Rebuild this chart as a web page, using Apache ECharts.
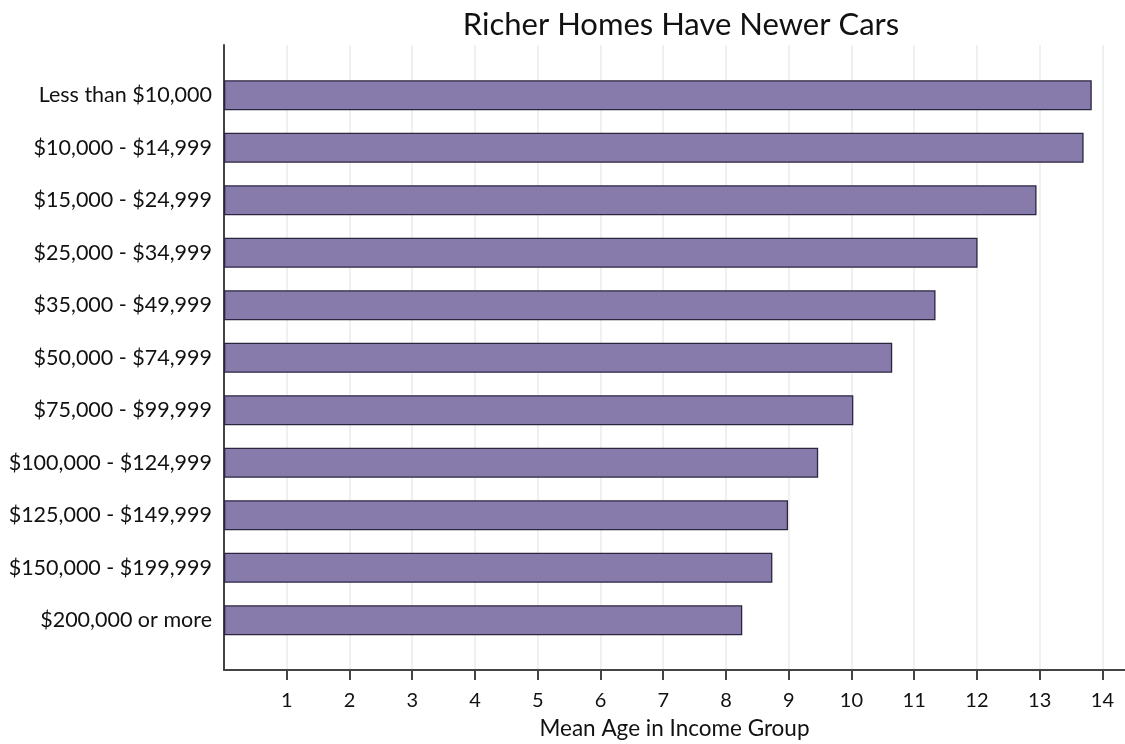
<!DOCTYPE html>
<html>
<head>
<meta charset="utf-8">
<script src="https://cdn.jsdelivr.net/npm/echarts@6/dist/echarts.min.js"></script>
<style>
  html, body { margin: 0; padding: 0; background: #fff; }
  #chart { width: 1125px; height: 744px; }
</style>
</head>
<body>
<div id="chart"></div>
<script>
// 收入分组
const incomeGroups = [
  'Less than $10,000',
  '$10,000 - $14,999',
  '$15,000 - $24,999',
  '$25,000 - $34,999',
  '$35,000 - $49,999',
  '$50,000 - $74,999',
  '$75,000 - $99,999',
  '$100,000 - $124,999',
  '$125,000 - $149,999',
  '$150,000 - $199,999',
  '$200,000 or more'
];
// 平均车龄
const meanAge = [13.83, 13.70, 12.95, 12.01, 11.34, 10.65, 10.03, 9.47, 8.99, 8.74, 8.26];
const xTicks = [1, 2, 3, 4, 5, 6, 7, 8, 9, 10, 11, 12, 13, 14];

const font = 'Lato, "Noto Sans", sans-serif';
const xMax = 14.36;

const myChart = echarts.init(document.getElementById('chart'));

const option = {
  backgroundColor: '#fff',
  animation: false,
  title: {
    text: 'Richer Homes Have Newer Cars',
    left: 676,
    top: 4,
    textAlign: 'center',
    textStyle: { color: '#111', fontSize: 31, fontWeight: 'normal', fontFamily: font }
  },
  grid: [
    // 外框：坐标轴线和网格线
    { left: 224, right: 0, top: 45, bottom: 74, outerBoundsMode: 'none', containLabel: false },
    // 柱子
    { left: 224, right: 0, top: 69, bottom: 97.5, outerBoundsMode: 'none', containLabel: false }
  ],
  xAxis: [
    {
      gridIndex: 0,
      type: 'value',
      min: 0,
      max: xMax,
      name: 'Mean Age in Income Group',
      nameLocation: 'middle',
      nameGap: 47,
      nameTextStyle: { color: '#111', fontSize: 22.5, fontFamily: font },
      axisLine: { show: true, lineStyle: { color: '#444', width: 2 } },
      axisTick: { show: true, customValues: xTicks, length: 10, lineStyle: { color: '#444', width: 2 } },
      axisLabel: { customValues: xTicks, margin: 21, color: '#111', fontSize: 20, fontFamily: font },
      splitLine: { show: true, lineStyle: { color: '#ebebeb', width: 1.5 } }
    },
    {
      gridIndex: 1,
      type: 'value',
      min: 0,
      max: xMax,
      show: false
    }
  ],
  yAxis: [
    {
      gridIndex: 0,
      type: 'value',
      axisLine: { show: true, lineStyle: { color: '#444', width: 2 } },
      axisTick: { show: false },
      axisLabel: { show: false },
      splitLine: { show: false }
    },
    {
      gridIndex: 1,
      type: 'category',
      inverse: true,
      data: incomeGroups,
      axisLine: { show: false },
      axisTick: { show: false },
      axisLabel: { margin: 12, color: '#111', fontSize: 21.5, fontFamily: font }
    }
  ],
  series: [
    {
      type: 'bar',
      xAxisIndex: 1,
      yAxisIndex: 1,
      data: meanAge,
      barWidth: 30,
      itemStyle: { color: '#877bab', borderColor: '#2b2540', borderWidth: 1.3 }
    }
  ]
};

myChart.setOption(option);
</script>
</body>
</html>
